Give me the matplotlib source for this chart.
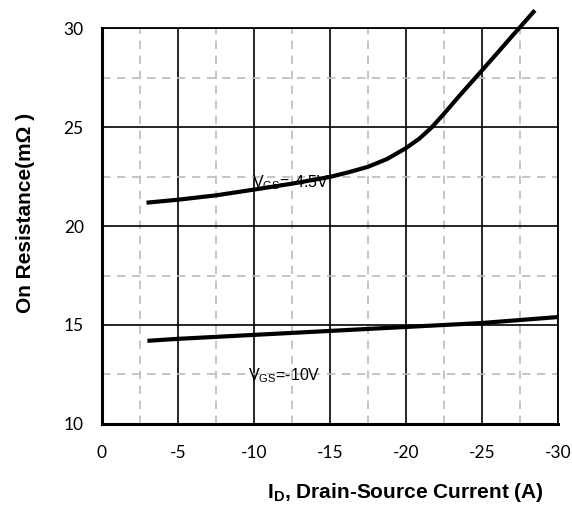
import matplotlib.pyplot as plt
from matplotlib.ticker import MultipleLocator

plt.rcParams["axes.unicode_minus"] = False

# ================================
#   DATOS
# ================================

id_45 = [-2.94, -5, -7.5, -10, -12.5, -15, -16.25, -17.5, -18.75, -20, -20.9, -21.7,
         -22.5, -23.55, -25, -26, -27, -28.5]
rds_45 = [21.18, 21.33, 21.55, 21.84, 22.14, 22.48, 22.72, 22.99, 23.38, 23.93, 24.42, 24.98,
          25.66, 26.6, 27.85, 28.72, 29.6, 30.9]

id_10 = [-3, -5, -10, -15, -20, -25, -30]
rds_10 = [14.2, 14.3, 14.5, 14.7, 14.9, 15.1, 15.4]

xticks = [0, -5, -10, -15, -20, -25, -30]
yticks = [10, 15, 20, 25, 30]

# ================================
#   FIGURA
# ================================

fig = plt.figure(figsize=(5.72, 5.12), dpi=100)
ax = fig.add_axes([0.178, 0.172, 0.797, 0.773])

ax.plot(id_45, rds_45, color="black", lw=3, clip_on=False, zorder=3,
        solid_capstyle="butt", solid_joinstyle="round")
ax.plot(id_10, rds_10, color="black", lw=3, zorder=3, solid_capstyle="butt")

ax.set_xlim(0, -30)
ax.set_ylim(10, 30)
ax.set_xticks(xticks)
ax.set_yticks(yticks)
ax.xaxis.set_minor_locator(MultipleLocator(2.5))
ax.yaxis.set_minor_locator(MultipleLocator(2.5))

ax.grid(which="major", color="black", lw=1.2)
ax.grid(which="minor", color="#bbbbbb", lw=1.2, ls=(0, (5, 4)))
ax.set_axisbelow(True)

ax.tick_params(which="both", length=0, labelsize=12.5)
ax.tick_params(axis="x", pad=15)
ax.tick_params(axis="y", pad=13)
for lab in ax.get_xticklabels() + ax.get_yticklabels():
    lab.set_family("Lato")

for lado in ["left", "bottom"]:
    ax.spines[lado].set_linewidth(2.2)
for lado in ["top", "right"]:
    ax.spines[lado].set_linewidth(1.3)

# Etiquetas de las curvas
ax.text(-9.9, 22.2, r"V$_{\mathregular{GS}}$=-4.5V", family="Liberation Sans",
        fontsize=11.5, ha="left", va="center")
ax.text(-9.6, 12.45, r"V$_{\mathregular{GS}}$=-10V", family="Liberation Sans",
        fontsize=11.5, ha="left", va="center")

# Títulos de ejes
fig.text(0.045, 0.584, "On Resistance(m\u03a9 )", rotation=90, ha="center", va="center",
         family="Liberation Sans", fontweight="bold", fontsize=15)
fig.text(0.708, 0.015, r"I$_{\mathregular{D}}$, Drain-Source Current (A)", ha="center", va="bottom",
         family="Liberation Sans", fontweight="bold", fontsize=15)

fig.savefig("out.png", dpi=100)
